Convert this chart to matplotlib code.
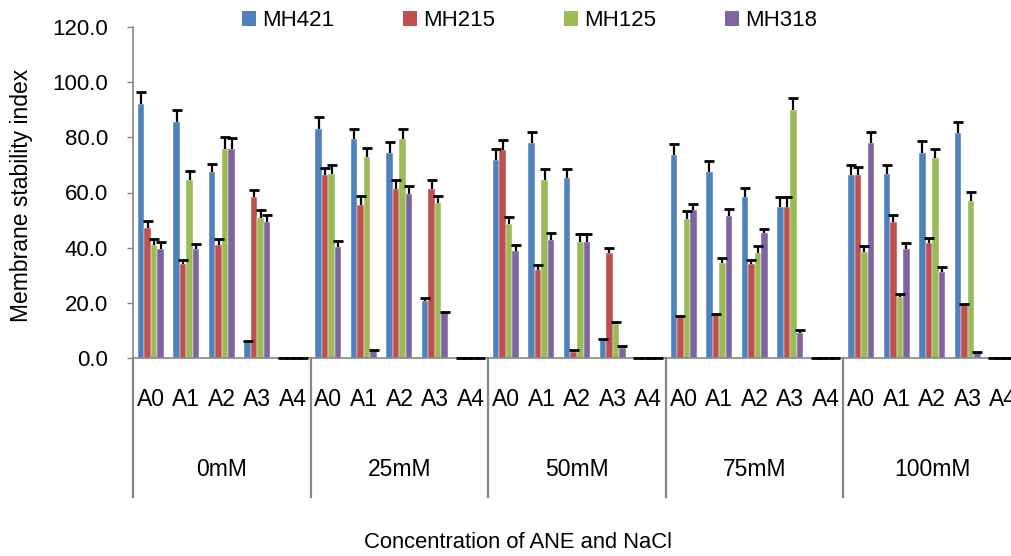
import matplotlib
matplotlib.use("Agg")
import matplotlib.pyplot as plt
from matplotlib.patches import Patch
from matplotlib.lines import Line2D
import numpy as np

plt.rcParams['font.family'] = ['Liberation Sans', 'DejaVu Sans']

concentrations = ["0mM", "25mM", "50mM", "75mM", "100mM"]
treatments = ["A0", "A1", "A2", "A3", "A4"]
series_names = ["MH421", "MH215", "MH125", "MH318"]
colors = ["#4F81BD", "#C0504D", "#9BBB59", "#8064A2"]

# values per category (conc x treatment), flattened in order
mh421 = [92.0, 85.6, 67.4, 6.2, 0.0,
         82.9, 79.3, 74.4, 20.5, 0.0,
         71.8, 77.8, 65.3, 6.5, 0.0,
         73.7, 67.3, 58.3, 54.7, 0.0,
         66.2, 66.8, 74.4, 81.5, 0.0]
mh215 = [47.2, 33.9, 40.8, 58.3, 0.0,
         66.2, 55.5, 61.1, 61.1, 0.0,
         75.3, 31.8, 2.2, 38.1, 0.0,
         15.3, 16.0, 33.9, 54.7, 0.0,
         66.2, 49.3, 41.7, 19.5, 0.0]
mh125 = [40.8, 64.7, 75.9, 50.7, 0.0,
         66.8, 73.0, 79.3, 56.2, 0.0,
         48.6, 64.7, 42.2, 12.2, 0.0,
         50.5, 34.5, 38.1, 89.9, 0.0,
         38.3, 22.2, 72.4, 56.8, 0.0]
mh318 = [39.5, 39.5, 75.9, 49.2, 0.0,
         40.1, 2.4, 59.3, 16.6, 0.0,
         38.7, 42.9, 42.2, 3.6, 0.0,
         53.6, 51.3, 45.2, 9.2, 0.0,
         77.9, 39.6, 31.2, 2.1, 0.0]

err421 = [4.6, 4.3, 3.1, 0.0, 0.0,
          4.6, 3.9, 4.0, 1.2, 0.0,
          3.8, 4.0, 3.3, 0.3, 0.0,
          4.0, 4.1, 3.3, 3.5, 0.0,
          3.6, 3.3, 4.3, 4.1, 0.0]
err215 = [2.4, 1.7, 2.5, 2.5, 0.0,
          2.8, 3.2, 3.3, 3.3, 0.0,
          3.8, 1.8, 0.8, 1.8, 0.0,
          0.0, 0.0, 1.7, 3.5, 0.0,
          3.1, 2.7, 1.8, 0.0, 0.0]
err125 = [2.4, 3.2, 4.3, 3.0, 0.0,
          3.0, 3.1, 3.9, 2.7, 0.0,
          2.4, 3.7, 2.6, 1.0, 0.0,
          2.7, 1.9, 2.4, 4.3, 0.0,
          2.2, 1.0, 3.2, 3.3, 0.0]
err318 = [2.4, 1.7, 3.7, 2.5, 0.0,
          2.4, 0.5, 3.0, 0.0, 0.0,
          2.4, 2.4, 2.6, 0.8, 0.0,
          2.4, 2.6, 1.7, 1.0, 0.0,
          4.0, 2.0, 1.8, 0.0, 0.0]

values = [mh421, mh215, mh125, mh318]
errors = [err421, err215, err125, err318]

W, H = 1011, 556
fig = plt.figure(figsize=(W / 100, H / 100), dpi=100)
left_px, right_px, top_px, bot_px = 133, 1021, 27, 358
ax = fig.add_axes([left_px / W, (H - bot_px) / H, (right_px - left_px) / W, (bot_px - top_px) / H])

n = len(concentrations) * len(treatments)
x = np.arange(n)
bw = 0.183
for j, (vals, errs, c, name) in enumerate(zip(values, errors, colors, series_names)):
    xpos = x + (j - 1.5) * bw
    vals = np.asarray(vals)
    errs = np.asarray(errs)
    ax.bar(xpos, vals, width=bw, color=c, edgecolor='white', linewidth=0.3, label=name, zorder=2)
    ax.errorbar(xpos, vals, yerr=[np.zeros(n), errs], fmt='none', ecolor='black',
                elinewidth=1.6, capsize=0, zorder=3)
    ax.plot(xpos, vals + errs, linestyle='none', marker='_', markersize=7.5,
            markeredgewidth=2.0, color='black', zorder=4, clip_on=False)

ax.set_xlim(-0.5, n - 0.5)
ax.set_ylim(0, 120)
ax.set_yticks(np.arange(0, 121, 20))
ax.set_yticklabels([f"{v:.1f}" for v in np.arange(0, 121, 20)], fontsize=16)
ax.tick_params(axis='y', direction='out', length=4, width=1, color='#878787', pad=14)
ax.set_xticks([])
for s in ['top', 'right']:
    ax.spines[s].set_visible(False)
ax.spines['left'].set_color('#878787')
ax.spines['bottom'].set_color('#878787')
ax.spines['left'].set_linewidth(1.2)
ax.spines['bottom'].set_linewidth(1.2)

axh = bot_px - top_px
lab_y = -(400 - bot_px) / axh
grp_y = -(470 - bot_px) / axh
sep_y = -(497 - bot_px) / axh
trans = ax.get_xaxis_transform()
for i in range(n):
    ax.text(x[i], lab_y, treatments[i % len(treatments)], transform=trans,
            ha='center', va='center', fontsize=16.5, clip_on=False)
for g, cname in enumerate(concentrations):
    ax.text(g * 5 + 2, grp_y, cname, transform=trans, ha='center', va='center',
            fontsize=16.5, clip_on=False)
for g in range(len(concentrations) + 1):
    ax.add_line(Line2D([g * 5 - 0.5, g * 5 - 0.5], [0, sep_y], transform=trans,
                       color='#878787', linewidth=1.6, clip_on=False))

fig.text(22 / W, (H - 195) / H, "Membrane stability index", rotation=90,
         ha='center', va='center', fontsize=16.5)
fig.text(518 / W, (H - 543) / H, "Concentration of ANE and NaCl",
         ha='center', va='center', fontsize=15.8)

handles = [Patch(facecolor=c, edgecolor='none') for c in colors]
fig.legend(handles, series_names, loc='center left', bbox_to_anchor=(242 / W, (H - 21) / H),
           ncol=4, frameon=False, fontsize=16, handlelength=0.63, handleheight=0.63,
           handletextpad=0.27, columnspacing=3.1, borderpad=0, borderaxespad=0)

fig.savefig("out.png", dpi=100)
